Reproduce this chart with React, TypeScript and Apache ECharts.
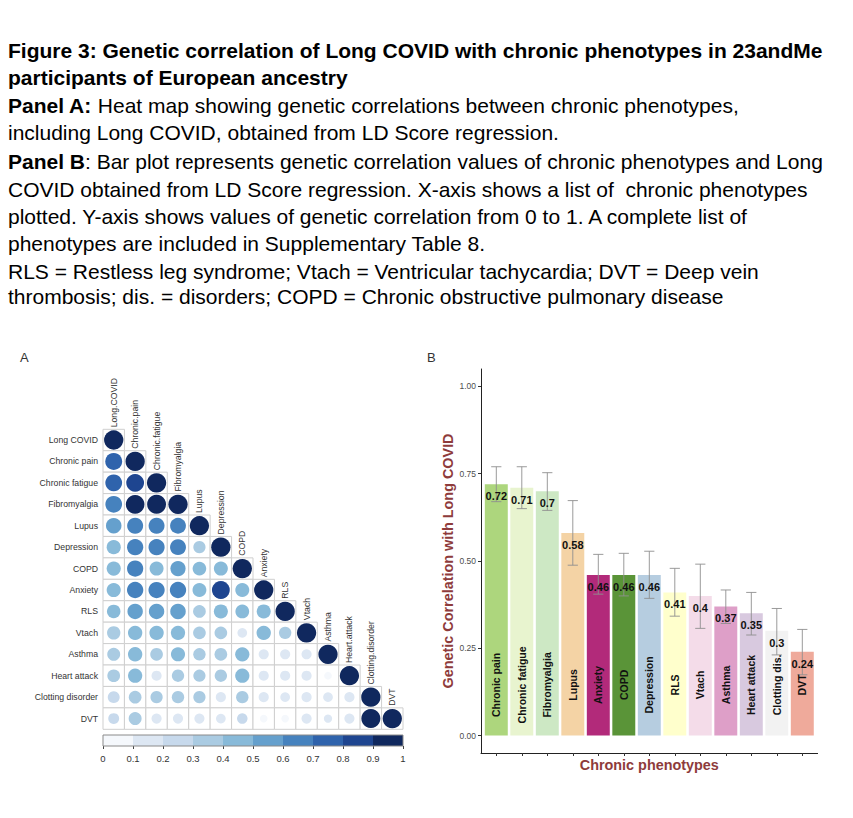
import React, { useEffect, useRef } from "react";
import * as echarts from "echarts";

// ---------- Panel A data ----------
const heatRowLabels = [
  "Long COVID", "Chronic pain", "Chronic fatigue", "Fibromyalgia", "Lupus", "Depression", "COPD",
  "Anxiety", "RLS", "Vtach", "Asthma", "Heart attack", "Clotting disorder", "DVT",
];
const heatColLabels = [
  "Long.COVID", "Chronic.pain", "Chronic.fatigue", "Fibromyalgia", "Lupus", "Depression", "COPD",
  "Anxiety", "RLS", "Vtach", "Asthma", "Heart.attack", "Clotting.disorder", "DVT",
];
const corrRows = [
  [1],
  [0.72, 1],
  [0.71, 0.82, 1],
  [0.7, 0.92, 0.95, 1],
  [0.58, 0.63, 0.62, 0.61, 1],
  [0.46, 0.65, 0.64, 0.62, 0.32, 1],
  [0.46, 0.65, 0.45, 0.55, 0.42, 0.45, 1],
  [0.46, 0.66, 0.65, 0.66, 0.44, 0.82, 0.45, 1],
  [0.41, 0.57, 0.57, 0.58, 0.35, 0.45, 0.43, 0.45, 1],
  [0.4, 0.48, 0.48, 0.47, 0.35, 0.35, 0.18, 0.48, 0.33, 1],
  [0.37, 0.48, 0.35, 0.46, 0.33, 0.35, 0.47, 0.2, 0.2, 0.2, 1],
  [0.35, 0.47, 0.2, 0.33, 0.32, 0.33, 0.47, 0.2, 0.2, 0.2, 0.1, 1],
  [0.3, 0.35, 0.32, 0.33, 0.32, 0.2, 0.33, 0.2, 0.18, 0.2, 0.18, 0.2, 1],
  [0.24, 0.37, 0.2, 0.2, 0.2, 0.18, 0.22, 0.1, 0.1, 0.2, 0.12, 0.2, 0.97, 1],
];
const colorBinEdges = [0, 0.1, 0.2, 0.3, 0.4, 0.5, 0.6, 0.7, 0.8, 0.9, 1];
const colorBinColors = [
  "#F5F8FC", "#DDE7F3", "#C7D9EC", "#AACBE2", "#88BAD9",
  "#65A0CD", "#4682BE", "#2F63AC", "#1E4590", "#10285E",
];

// ---------- Panel B data ----------
const barNames = [
  "Chronic pain", "Chronic fatigue", "Fibromyalgia", "Lupus", "Anxiety", "COPD", "Depression",
  "RLS", "Vtach", "Asthma", "Heart attack", "Clotting dis.", "DVT",
];
const barValues = [0.72, 0.71, 0.7, 0.58, 0.46, 0.46, 0.46, 0.41, 0.4, 0.37, 0.35, 0.3, 0.24];
const errLower = [0.67, 0.65, 0.645, 0.488, 0.405, 0.4, 0.393, 0.342, 0.307, 0.321, 0.288, 0.231, 0.174];
const errUpper = [0.77, 0.77, 0.753, 0.673, 0.519, 0.522, 0.528, 0.479, 0.491, 0.417, 0.41, 0.364, 0.304];
const barColors = [
  "#ADD67D", "#E8F4CF", "#CDE8C4", "#F4D3A5", "#B22A7A", "#5A9438", "#B6CDE0",
  "#FFFFCC", "#F4DCE9", "#DE9FC8", "#D8C9DF", "#F2F2F2", "#EFAA9B",
];
const yTickValues = [0, 0.25, 0.5, 0.75, 1];
const xTickValues = [0, 1, 2, 3, 4, 5, 6, 7, 8, 9, 10, 11, 12];

// ---------- Caption ----------
const captionLines = [
  "{h|Figure 3: Genetic correlation of Long COVID with chronic phenotypes in 23andMe}",
  "{h|participants of European ancestry}",
  "{h|Panel A:}{r| Heat map showing genetic correlations between chronic phenotypes,}",
  "{r|including Long COVID, obtained from LD Score regression.}",
  "{h|Panel B}{r|: Bar plot represents genetic correlation values of chronic phenotypes and Long}",
  "{r|COVID obtained from LD Score regression. X-axis shows a list of  chronic phenotypes}",
  "{r|plotted. Y-axis shows values of genetic correlation from 0 to 1. A complete list of}",
  "{r|phenotypes are included in Supplementary Table 8.}",
  "{r|RLS = Restless leg syndrome; Vtach = Ventricular tachycardia; DVT = Deep vein}",
  "{r|thrombosis; dis. = disorders; COPD = Chronic obstructive pulmonary disease}",
];
const captionY = [50, 77, 105, 132, 161, 189, 216, 243, 271, 296];

const FONT = "'Liberation Sans', Arial, Helvetica, sans-serif";
const TITLE_RED = "#8E3B3B";
const CAPTION_SIZE = 21;

function binColor(v: number): string {
  const k = Math.ceil(Math.round(v * 1000) / 100) - 1;
  return colorBinColors[Math.min(9, Math.max(0, k))];
}

export default function App() {
  const ref = useRef<HTMLDivElement>(null);

  useEffect(() => {
    if (!ref.current) return;
    const chart = echarts.init(ref.current, null, { renderer: "svg" });

    const heatData: number[][] = [];
    corrRows.forEach((row, i) => row.forEach((v, j) => heatData.push([j, i, v])));
    const diagData = heatColLabels.map((_, j) => [j, j]);
    const binData = colorBinColors.map((_, k) => [colorBinEdges[k], colorBinEdges[k + 1]]);
    const barData = barNames.map((_, i) => [i, barValues[i], errLower[i], errUpper[i]]);

    const rich = {
      h: { fontFamily: FONT, fontSize: CAPTION_SIZE, fontWeight: "bold", fill: "#000", color: "#000" },
      r: { fontFamily: FONT, fontSize: CAPTION_SIZE, fontWeight: "normal", fill: "#000", color: "#000" },
    };

    const graphics: any[] = captionLines.map((t, i) => ({
      type: "text",
      x: 8,
      y: captionY[i],
      style: {
        text: t,
        rich,
        fontFamily: FONT,
        fontSize: CAPTION_SIZE,
        fill: "#000",
        align: "left",
        verticalAlign: "middle",
      },
    }));
    graphics.push(
      { type: "text", x: 20, y: 357, style: { text: "A", fontFamily: FONT, fontSize: 13, fill: "#333", align: "left", verticalAlign: "middle" } },
      { type: "text", x: 427, y: 357, style: { text: "B", fontFamily: FONT, fontSize: 13, fill: "#333", align: "left", verticalAlign: "middle" } },
      {
        type: "text", x: 448, y: 561, rotation: Math.PI / 2,
        style: { text: "Genetic Correlation with Long COVID", fontFamily: FONT, fontSize: 14.4, fontWeight: "bold", fill: TITLE_RED, align: "center", verticalAlign: "middle" },
      },
      {
        type: "text", x: 649.3, y: 765,
        style: { text: "Chronic phenotypes", fontFamily: FONT, fontSize: 14.4, fontWeight: "bold", fill: TITLE_RED, align: "center", verticalAlign: "middle" },
      }
    );

    const option: any = {
      animation: false,
      backgroundColor: "#fff",
      textStyle: { fontFamily: FONT },
      graphic: graphics,
      grid: [
        { left: 103, top: 429.3, width: 300, height: 300, containLabel: false },
        { left: 103, top: 735, width: 300, height: 11, containLabel: false },
        { left: 481, top: 369, width: 336.6, height: 384, containLabel: false },
      ],
      xAxis: [
        { type: "category", gridIndex: 0, data: heatColLabels, show: false },
        {
          type: "value", gridIndex: 1, min: 0, max: 1, interval: 0.1,
          axisLine: { show: false, onZero: false },
          axisTick: { show: true, length: 3, lineStyle: { color: "#444", width: 1 } },
          axisLabel: {
            show: true, fontSize: 9.5, color: "#333", margin: 7, fontFamily: FONT,
            formatter: (v: number) => String(Math.round(v * 10) / 10),
          },
          splitLine: { show: false },
        },
        {
          type: "value", gridIndex: 2, min: -0.6, max: 12.6,
          axisLine: { show: true, onZero: false, lineStyle: { color: "#222", width: 1 } },
          axisTick: { show: true, length: 3, customValues: xTickValues, lineStyle: { color: "#333", width: 1 } },
          axisLabel: { show: false },
          splitLine: { show: false },
        },
      ],
      yAxis: [
        {
          type: "category", gridIndex: 0, data: heatRowLabels, inverse: true,
          axisLine: { show: false }, axisTick: { show: false },
          axisLabel: { show: true, interval: 0, fontSize: 8.7, color: "#333", margin: 5, fontFamily: FONT },
          splitLine: { show: false },
        },
        { type: "value", gridIndex: 1, min: 0, max: 1, show: false },
        {
          type: "value", gridIndex: 2, min: -0.05, max: 1.05,
          axisLine: { show: true, onZero: false, lineStyle: { color: "#222", width: 1 } },
          axisTick: { show: true, length: 3, customValues: yTickValues, lineStyle: { color: "#333", width: 1 } },
          axisLabel: {
            show: true, customValues: yTickValues, fontSize: 8.5, color: "#4D4D4D", margin: 5, fontFamily: FONT,
            formatter: (v: number) => v.toFixed(2),
          },
          splitLine: { show: false },
        },
      ],
      series: [
        {
          type: "custom",
          xAxisIndex: 0, yAxisIndex: 0,
          data: heatData,
          renderItem: (params: any, api: any) => {
            const c = api.coord([api.value(0), api.value(1)]);
            const s = api.size([1, 1]);
            const w = s[0], h = s[1];
            const v = api.value(2);
            return {
              type: "group",
              children: [
                { type: "rect", shape: { x: c[0] - w / 2, y: c[1] - h / 2, width: w, height: h }, style: { fill: "#fff", stroke: "#CFCFCF", lineWidth: 1 } },
                { type: "circle", shape: { cx: c[0], cy: c[1], r: 0.45 * Math.pow(Math.abs(v), 0.4) * w }, style: { fill: binColor(v) } },
              ],
            };
          },
        },
        {
          type: "custom",
          xAxisIndex: 0, yAxisIndex: 0,
          data: diagData,
          renderItem: (params: any, api: any) => {
            const c = api.coord([api.value(0), api.value(1)]);
            const s = api.size([1, 1]);
            return {
              type: "text",
              x: c[0],
              y: c[1] - s[1] / 2 - 2,
              rotation: Math.PI / 2,
              style: {
                text: heatColLabels[params.dataIndex],
                fontFamily: FONT, fontSize: 8.7, fill: "#333",
                align: "left", verticalAlign: "middle",
              },
            };
          },
        },
        {
          type: "custom",
          xAxisIndex: 1, yAxisIndex: 1,
          data: binData,
          renderItem: (params: any, api: any) => {
            const a = api.coord([api.value(0), 1]);
            const b = api.coord([api.value(1), 0]);
            return {
              type: "rect",
              shape: { x: a[0], y: a[1], width: b[0] - a[0], height: b[1] - a[1] },
              style: { fill: colorBinColors[params.dataIndex], stroke: null },
            };
          },
        },
        {
          type: "custom",
          xAxisIndex: 1, yAxisIndex: 1,
          data: [[0, 1]],
          renderItem: (params: any, api: any) => {
            const a = api.coord([api.value(0), 1]);
            const b = api.coord([api.value(1), 0]);
            return {
              type: "rect",
              shape: { x: a[0], y: a[1], width: b[0] - a[0], height: b[1] - a[1] },
              style: { fill: "none", stroke: "#8A8A8A", lineWidth: 1 },
            };
          },
        },
        {
          type: "custom",
          xAxisIndex: 2, yAxisIndex: 2,
          data: barData,
          renderItem: (params: any, api: any) => {
            const i = api.value(0);
            const val = api.value(1);
            const lo = api.value(2);
            const hi = api.value(3);
            const tl = api.coord([i - 0.45, val]);
            const br = api.coord([i + 0.45, 0]);
            const pLo = api.coord([i, lo]);
            const pHi = api.coord([i, hi]);
            const capL = api.coord([i - 0.2, 0])[0];
            const capR = api.coord([i + 0.2, 0])[0];
            const mid = api.coord([i, 0.145]);
            const top = api.coord([i, val]);
            const eb = { stroke: "#8F8F8F", lineWidth: 0.9 };
            return {
              type: "group",
              children: [
                { type: "rect", shape: { x: tl[0], y: tl[1], width: br[0] - tl[0], height: br[1] - tl[1] }, style: { fill: barColors[params.dataIndex] } },
                { type: "line", shape: { x1: pLo[0], y1: pLo[1], x2: pHi[0], y2: pHi[1] }, style: eb },
                { type: "line", shape: { x1: capL, y1: pLo[1], x2: capR, y2: pLo[1] }, style: eb },
                { type: "line", shape: { x1: capL, y1: pHi[1], x2: capR, y2: pHi[1] }, style: eb },
                {
                  type: "text", x: mid[0], y: mid[1], rotation: Math.PI / 2,
                  style: { text: barNames[params.dataIndex], fontFamily: FONT, fontSize: 10.5, fontWeight: "bold", fill: "#111", align: "center", verticalAlign: "middle" },
                },
                {
                  type: "text", x: top[0], y: top[1] + 12,
                  style: { text: String(val), fontFamily: FONT, fontSize: 11, fontWeight: "bold", fill: "#111", align: "center", verticalAlign: "middle" },
                },
              ],
            };
          },
        },
      ],
    };

    chart.setOption(option);
    return () => chart.dispose();
  }, []);

  return (
    <div
      ref={ref}
      style={{ position: "fixed", left: 0, top: 0, width: 853, height: 818, background: "#fff" }}
    />
  );
}
